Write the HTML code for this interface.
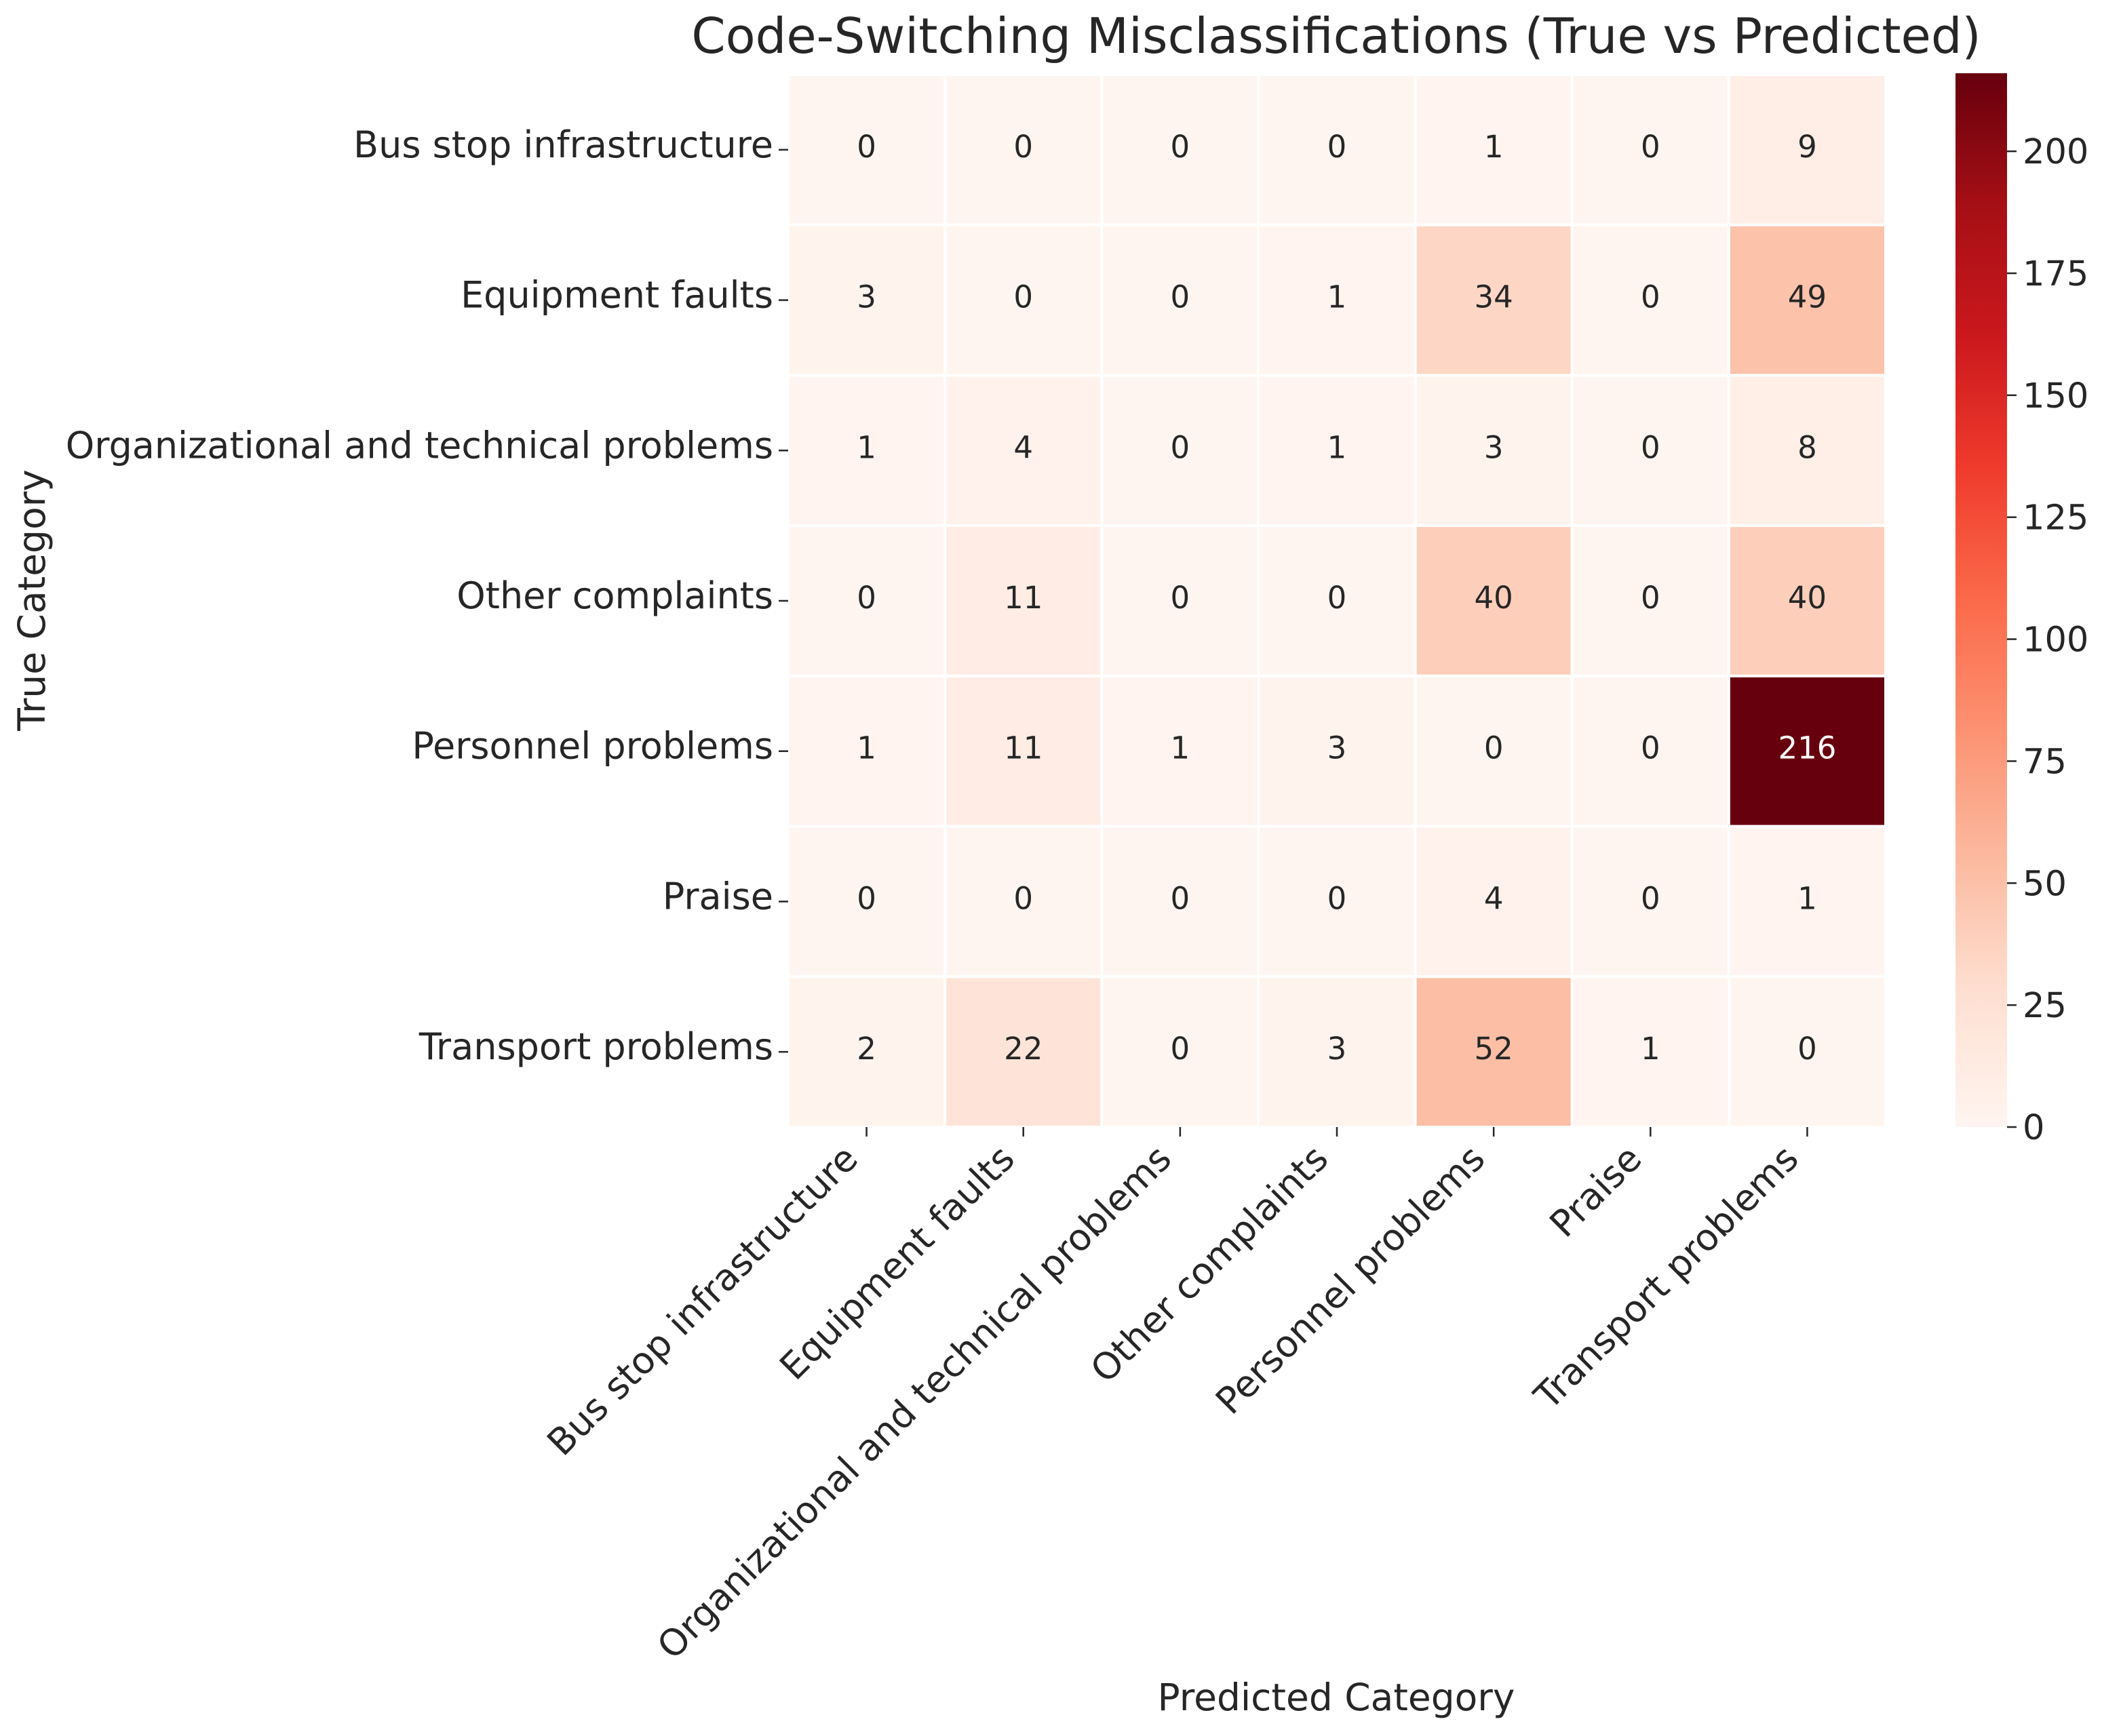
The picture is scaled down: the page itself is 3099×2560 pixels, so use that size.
<!DOCTYPE html>
<html><head><meta charset="utf-8"><style>
html,body{margin:0;padding:0;background:#fff;}
svg{display:block;font-family:"DejaVu Sans","Liberation Sans",sans-serif;}
</style></head><body>
<svg id="chart" width="3099" height="2560" viewBox="0 0 3099 2560" xmlns="http://www.w3.org/2000/svg">
<defs>
<linearGradient id="reds" x1="0" y1="1" x2="0" y2="0">
<stop offset="0" stop-color="#fff5f0"/><stop offset="0.125" stop-color="#fee0d2"/><stop offset="0.25" stop-color="#fcbba1"/><stop offset="0.375" stop-color="#fc9272"/><stop offset="0.5" stop-color="#fb6a4a"/><stop offset="0.625" stop-color="#ef3b2c"/><stop offset="0.75" stop-color="#cb181d"/><stop offset="0.875" stop-color="#a50f15"/><stop offset="1" stop-color="#67000d"/>
</linearGradient>
</defs>
<text x="1970" y="78" font-size="72" text-anchor="middle" fill="#262626">Code-Switching Misclassifications (True vs Predicted)</text>
<g id="cells"></g>
<g id="yticks"></g>
<g id="xticks"></g>
<rect x="2883" y="108" width="76" height="1554" fill="url(#reds)"/>
<g id="cbticks"></g>
<text x="1970" y="2522" font-size="55" text-anchor="middle" fill="#262626">Predicted Category</text>
<text transform="translate(66,885) rotate(-90)" font-size="55" text-anchor="middle" fill="#262626">True Category</text>
</svg>
<script>
const categories = ["Bus stop infrastructure","Equipment faults","Organizational and technical problems","Other complaints","Personnel problems","Praise","Transport problems"];
const row0 = [0,0,0,0,1,0,9];
const row1 = [3,0,0,1,34,0,49];
const row2 = [1,4,0,1,3,0,8];
const row3 = [0,11,0,0,40,0,40];
const row4 = [1,11,1,3,0,0,216];
const row5 = [0,0,0,0,4,0,1];
const row6 = [2,22,0,3,52,1,0];
const matrix = [row0,row1,row2,row3,row4,row5,row6];
const colorbarTicks = [0,25,50,75,100,125,150,175,200];

const NS = "http://www.w3.org/2000/svg";
const L = 1162, R = 2780, T = 110, B = 1662;
const nC = categories.length;
const cw = (R - L) / nC, ch = (B - T) / nC;
let vmax = 0; matrix.forEach(r => r.forEach(v => { if (v > vmax) vmax = v; }));
const xPos = j => L + (j + 0.5) * cw;
const yPos = i => T + (i + 0.5) * ch;
const cbY = v => B - (v / vmax) * (B - 108);
const stops = [[255,245,240],[254,224,210],[252,187,161],[252,146,114],[251,106,74],[239,59,44],[203,24,29],[165,15,21],[103,0,13]];
function color(v) {
  const t = Math.max(0, Math.min(1, v / vmax)) * (stops.length - 1);
  const k = Math.min(Math.floor(t), stops.length - 2), f = t - k;
  return stops[k].map((a, idx) => Math.round(a + (stops[k + 1][idx] - a) * f));
}
function mk(tag, attrs, parent) {
  const e = document.createElementNS(NS, tag);
  for (const k in attrs) e.setAttribute(k, attrs[k]);
  parent.appendChild(e); return e;
}
const cells = document.getElementById("cells");
matrix.forEach((row, i) => row.forEach((v, j) => {
  const c = color(v);
  const r = mk("rect", {x: L + j * cw, y: T + i * ch, width: cw, height: ch, fill: `rgb(${c})`, stroke: "#ffffff", "stroke-width": 4}, cells);
  
  
  const lum = (0.2126 * c[0] + 0.7152 * c[1] + 0.0722 * c[2]) / 255;
  const t = mk("text", {x: xPos(j), y: yPos(i) + 11, "font-size": 45, "text-anchor": "middle", fill: lum > 0.408 ? "#262626" : "#ffffff"}, cells);
  t.textContent = v;
  
  
}));
const yt = document.getElementById("yticks");
categories.forEach((cat, i) => {
  mk("line", {x1: L - 14, x2: L, y1: yPos(i), y2: yPos(i), stroke: "#262626", "stroke-width": 2.5}, yt);
  const t = mk("text", {x: L - 22, y: yPos(i) + 11, "font-size": 54, "text-anchor": "end", fill: "#262626"}, yt);
  t.textContent = cat;
  
  
});
const xt = document.getElementById("xticks");
categories.forEach((cat, j) => {
  mk("line", {x1: xPos(j), x2: xPos(j), y1: B, y2: B + 14, stroke: "#262626", "stroke-width": 2.5}, xt);
  const t = mk("text", {transform: `translate(${xPos(j) - 10},${B + 50}) rotate(-45)`, "font-size": 54, "text-anchor": "end", fill: "#262626"}, xt);
  t.textContent = cat;
  
  
});
const cb = document.getElementById("cbticks");
colorbarTicks.forEach(v => {
  mk("line", {x1: 2959, x2: 2973, y1: cbY(v), y2: cbY(v), stroke: "#262626", "stroke-width": 2.5}, cb);
  const t = mk("text", {x: 2982, y: cbY(v) + 18, "font-size": 51, fill: "#262626"}, cb);
  t.textContent = v;
  
  
});
</script>
</body></html>
